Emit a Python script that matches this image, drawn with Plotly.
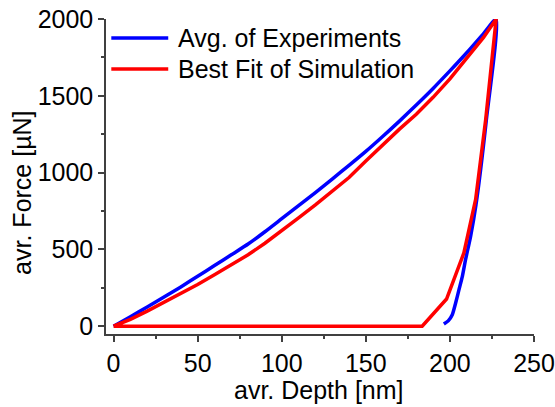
import plotly.graph_objects as go

# Loading branches (x: depth nm, y: force uN)
exp_load_depth = [0, 10, 20, 30, 40, 50, 60, 70, 80, 90, 100, 110, 120, 130, 140, 150, 160, 170, 180, 190, 200, 210, 220, 227.5]
exp_load_force = [0, 62, 125, 190, 256, 325, 395, 465, 535, 615, 700, 785, 870, 958, 1047, 1138, 1235, 1335, 1440, 1548, 1662, 1780, 1905, 2000]
# Unloading branch of experiment
exp_unload_depth = [227.5, 221.7, 215.5, 212.3, 209.3, 207.4, 205.4, 203.4, 201.4, 199.0, 196.4]
exp_unload_force = [2000, 1347, 790, 585, 433, 325, 238, 151, 75, 35, 14]

sim_load_depth = [0, 10, 20, 30, 40, 50, 60, 70, 80, 90, 100, 110, 120, 130, 140, 150, 160, 170, 180, 190, 200, 210, 220, 227.5]
sim_load_force = [0, 45, 98, 155, 213, 272, 335, 400, 465, 540, 620, 705, 790, 878, 968, 1075, 1180, 1283, 1380, 1490, 1610, 1745, 1880, 2000]
sim_unload_depth = [227.5, 221.3, 215.3, 208.3, 198.0, 183.5, 0]
sim_unload_force = [2000, 1347, 825, 477, 177, 0, 0]

series_names = ["Avg. of Experiments", "Best Fit of Simulation"]
series_colors = ["#0000FF", "#FF0000"]
x_ticks = [0, 50, 100, 150, 200, 250]
y_ticks = [0, 500, 1000, 1500, 2000]

FONT = "Arial, Liberation Sans, sans-serif"
FS = 25
fig = go.Figure()
fig.add_trace(go.Scatter(x=exp_load_depth + exp_unload_depth[1:], y=exp_load_force + exp_unload_force[1:],
                         mode="lines", line=dict(color=series_colors[0], width=3.5, shape="spline", smoothing=0.6),
                         name=series_names[0], showlegend=False))
fig.add_trace(go.Scatter(x=sim_load_depth + sim_unload_depth[1:], y=sim_load_force + sim_unload_force[1:],
                         mode="lines", line=dict(color=series_colors[1], width=3.5), name=series_names[1],
                         showlegend=False))

# manual legend (long line samples, as in the reference)
leg_y = [0.9397, 0.8414]
for i in range(2):
    fig.add_shape(type="line", xref="paper", yref="paper", x0=0.0124, x1=0.1454, y0=leg_y[i], y1=leg_y[i],
                  line=dict(color=series_colors[i], width=3.5))
    fig.add_annotation(xref="paper", yref="paper", x=0.164, y=leg_y[i], text=series_names[i],
                       showarrow=False, xanchor="left", yanchor="middle",
                       font=dict(family=FONT, size=FS, color="black"))

fig.add_annotation(xref="paper", yref="paper", x=0.497, y=0, yshift=-56, text="avr. Depth [nm]",
                   showarrow=False, xanchor="center", yanchor="middle",
                   font=dict(family=FONT, size=FS, color="black"))
fig.add_annotation(xref="paper", yref="paper", x=0, xshift=-84, y=0.448, text="avr. Force [µN]",
                   showarrow=False, textangle=-90, xanchor="center", yanchor="middle",
                   font=dict(family=FONT, size=FS, color="black"))

axis_common = dict(showline=True, linecolor="#404040", linewidth=1.5, ticks="outside", ticklen=6,
                   tickwidth=1.5, tickcolor="#404040", showgrid=False, zeroline=False, automargin=False,
                   tickfont=dict(family=FONT, size=FS, color="black"))
fig.update_xaxes(range=[-4.5, 250], tickvals=x_ticks, ticktext=[str(v) for v in x_ticks],
                 minor=dict(ticks="outside", dtick=25, tick0=0, ticklen=3.5, tickwidth=1.5, tickcolor="#404040"),
                 **axis_common)
fig.update_yaxes(range=[-50.7, 2000], tickvals=y_ticks, ticktext=[str(v) for v in y_ticks],
                 minor=dict(ticks="outside", dtick=250, tick0=0, ticklen=3.5, tickwidth=1.5, tickcolor="#404040"),
                 **axis_common)
fig.update_layout(width=555, height=407, margin=dict(l=106, r=21, t=19, b=73, autoexpand=False),
                  plot_bgcolor="white", paper_bgcolor="white", font=dict(family=FONT))
fig.write_html("out.html")
